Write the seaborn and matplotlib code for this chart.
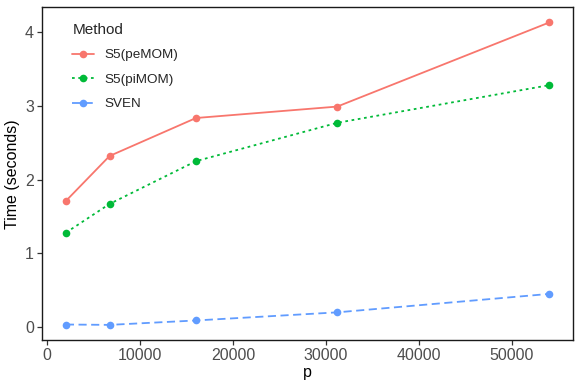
import matplotlib
matplotlib.use("Agg")
import matplotlib.pyplot as plt
import seaborn as sns
import pandas as pd

p_values = [2000, 6700, 16000, 31200, 54000]
methods = ["S5(peMOM)", "S5(piMOM)", "SVEN"]
time_pemom = [1.71, 2.32, 2.835, 2.99, 4.13]
time_pimom = [1.28, 1.67, 2.25, 2.77, 3.28]
time_sven = [0.035, 0.03, 0.09, 0.20, 0.45]

colors = ["#F8766D", "#00BA38", "#619CFF"]

df = pd.DataFrame({
    "p": p_values * 3,
    "Time": time_pemom + time_pimom + time_sven,
    "Method": [m for m in methods for _ in p_values],
})

sns.set_style("white")
plt.rcParams["font.family"] = ["Liberation Sans", "DejaVu Sans"]

fig = plt.figure(figsize=(5.81, 3.88), dpi=100)
ax = fig.add_axes([0.0718, 0.1237, 0.915, 0.8573])

sns.lineplot(data=df, x="p", y="Time", hue="Method", style="Method",
             palette=colors, markers=["o", "o", "o"],
             dashes=[(None, None), (1.5, 2.0), (4.5, 2.5)],
             linewidth=1.3, markersize=5.5, markeredgewidth=0, ax=ax)

ax.set_xlim(-600, 56600)
ax.set_ylim(-0.175, 4.335)
ax.set_xticks([0, 10000, 20000, 30000, 40000, 50000])
ax.set_yticks([0, 1, 2, 3, 4])
ax.set_xlabel("p", fontsize=11.5, color="black", labelpad=2)
ax.set_ylabel("Time (seconds)", fontsize=11.5, color="black", labelpad=4)
ax.tick_params(axis="both", labelsize=11.5, labelcolor="#4D4D4D", color="#333333",
               length=3.5, width=0.9, direction="out", bottom=True, left=True, pad=2)
for s in ax.spines.values():
    s.set_color("#1a1a1a")
    s.set_linewidth(1.0)

leg = ax.legend(title="Method", loc="upper left", frameon=False,
                bbox_to_anchor=(0.035, 0.99), fontsize=9.7, title_fontsize=11,
                handlelength=1.6, labelspacing=0.9, handletextpad=0.75)
leg._legend_box.align = "left"

fig.savefig("out.png", dpi=100)
